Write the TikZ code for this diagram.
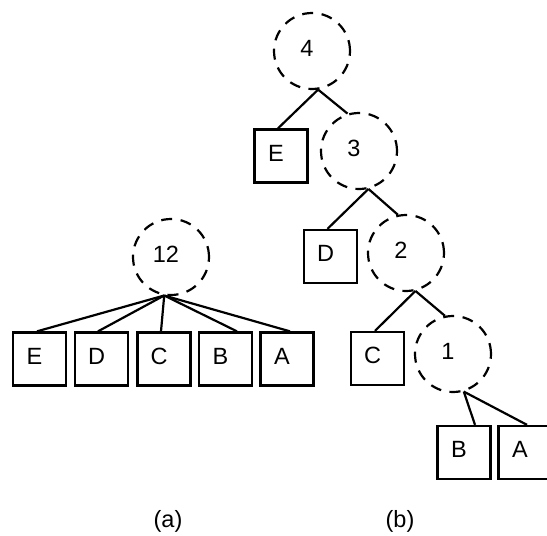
\documentclass[tikz,border=0pt]{standalone}
\usepackage{fontspec}
\setmainfont{Liberation Sans}
\usetikzlibrary{calc}
\begin{document}
\begin{tikzpicture}[x=1pt,y=-1pt,
  every node/.style={font=\fontsize{23.5}{27}\selectfont},
  leaf/.style={draw,line width=2.3pt,rectangle,minimum size=53pt,inner sep=0pt},
  inner/.style={draw,line width=2.2pt,circle,dash pattern=on 11pt off 8.5pt,minimum size=76pt,inner sep=0pt},
  txt/.style={xshift=-5pt,yshift=3pt},
  link/.style={line width=2.2pt}]
\useasboundingbox (0,0) rectangle (547,536);
% (a)
\node[inner,label={[txt]center:12}] (c12) at (171,257) {};
\node[leaf,label={[txt]center:E}] (aE) at (39.5,359) {};
\node[leaf,label={[txt]center:D}] (aD) at (101.5,359) {};
\node[leaf,label={[txt]center:C}] (aC) at (164,359) {};
\node[leaf,label={[txt]center:B}] (aB) at (225.5,359) {};
\node[leaf,label={[txt]center:A}] (aA) at (287,359) {};
\coordinate (j12) at (c12.260);
\draw[link] (j12) -- ($(aE.north)+(-2.5,0)$);
\draw[link] (j12) -- ($(aD.north)+(-3.5,0)$);
\draw[link] (j12) -- ($(aC.north)+(-3,0)$);
\draw[link] (j12) -- ($(aB.north)+(11.5,0)$);
\draw[link] (j12) -- ($(aA.north)+(3,0)$);
% (b)
\node[inner,label={[txt]center:4}] (c4) at (312,51) {};
\node[inner,label={[txt]center:3}] (c3) at (359,151) {};
\node[inner,label={[txt]center:2}] (c2) at (406,253) {};
\node[inner,label={[txt]center:1}] (c1) at (453,354) {};
\node[leaf,label={[txt]center:E}] (bE) at (281,156) {};
\node[leaf,label={[txt]center:D}] (bD) at (330.5,256.5) {};
\node[leaf,label={[txt]center:C}] (bC) at (377.5,358.5) {};
\node[leaf,label={[txt]center:B}] (bB) at (464,452.5) {};
\node[leaf,label={[txt]center:A}] (bA) at (525,452.5) {};
\coordinate (j4) at (c4.-81);
\coordinate (j3) at (c3.-76);
\coordinate (j2) at (c2.-76);
\coordinate (j1) at (c1.-74);
\draw[link] (j4) -- ($(bE.north)+(-3,0)$);
\draw[link] (j4) -- (c3.107);
\draw[link] (j3) -- ($(bD.north)+(-3,0)$);
\draw[link] (j3) -- (c2.102);
\draw[link] (j2) -- ($(bC.north)+(-2.5,0)$);
\draw[link] (j2) -- (c1.102);
\draw[link] (j1) -- ($(bB.north)+(11,0)$);
\draw[link] (j1) -- ($(bA.north)+(2,0)$);
% captions
\node (capa) at (168,521) {(a)};
\node (capb) at (400,521) {(b)};
\end{tikzpicture}
\end{document}
